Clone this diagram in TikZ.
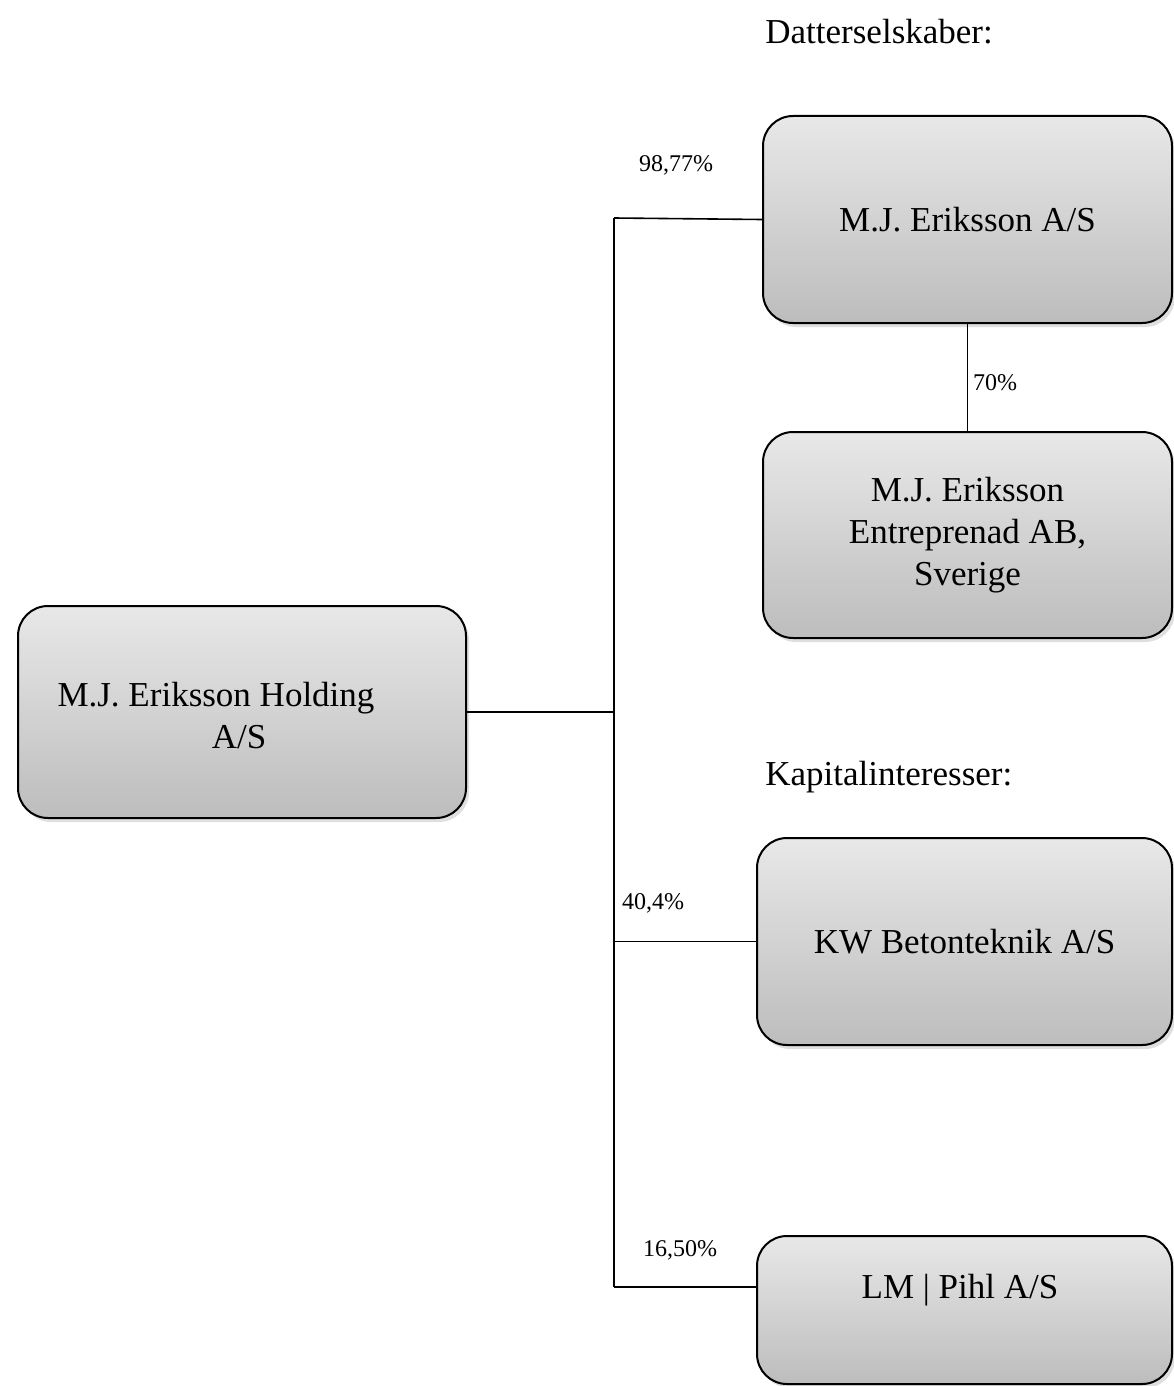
\documentclass[tikz,border=0pt]{standalone}
\usepackage{fontspec}
\setmainfont{Liberation Serif}
\usetikzlibrary{shadows}

\tikzset{
  entity/.style={draw=black, line width=1pt, rounded corners=15pt,
    top color=gray!18, bottom color=gray!52,
    drop shadow={shadow xshift=1.5pt, shadow yshift=-2pt, opacity=0.25},
    font=\fontsize{17.5}{21}\selectfont, align=center, inner sep=0pt},
  share/.style={font=\fontsize{12}{14}\selectfont, inner sep=0pt},
  heading/.style={font=\fontsize{17.5}{21}\selectfont, anchor=west, inner sep=0pt},
  link/.style={line width=0.8pt}
}

\begin{document}
\begin{tikzpicture}[x=0.5pt,y=-0.5pt]
\useasboundingbox (0,0) rectangle (1173,1386);

% Boxes
\node[entity, minimum width=224pt, minimum height=106pt] (holding) at (242,712) {};
\node[entity, minimum width=204.5pt, minimum height=103.5pt] (mje) at (967.5,219.5) {M.J. Eriksson A/S};
\node[entity, minimum width=204.5pt, minimum height=103pt] (mjese) at (967.5,535) {M.J. Eriksson\\Entreprenad AB,\\Sverige};
\node[entity, minimum width=207.5pt, minimum height=103.5pt] (kw) at (964.5,941.5) {KW Betonteknik A/S};
\node[entity, minimum width=207.5pt, minimum height=74pt] (pihl) at (964.5,1310) {};

% Box texts set off centre
\node[font=\fontsize{17.5}{21}\selectfont, align=center] (holdingtext) at (216,716) {M.J. Eriksson Holding\\\hspace*{23pt}A/S};
\node[font=\fontsize{17.5}{21}\selectfont] (pihltext) at (960,1290) {LM | Pihl A/S};

% Trunk line
\coordinate (trunktop) at (614,218);
\coordinate (trunkbot) at (614,1287);
\draw[link] (trunktop) -- (trunkbot);
\draw[link] (holding.east) -- (holding.east -| trunktop);

% Branches
\draw[link] (trunktop) -- (mje.west);
\draw[link] (trunktop |- kw.west) -- (kw.west);
\draw[link] (trunkbot) -- (trunkbot -| pihl.west);
\draw[link] (mje.south) -- (mjese.north);

% Headings
\node[heading] (datter) at (765,32) {Datterselskaber:};
\node[heading] (kapital) at (765,777) {Kapitalinteresser:};

% Shares
\node[share] (s1) at (676,165) {98,77\%};
\node[share] (s2) at (995,383) {70\%};
\node[share] (s3) at (653,903) {40,4\%};
\node[share] (s4) at (680,1250) {16,50\%};
\end{tikzpicture}
\end{document}
